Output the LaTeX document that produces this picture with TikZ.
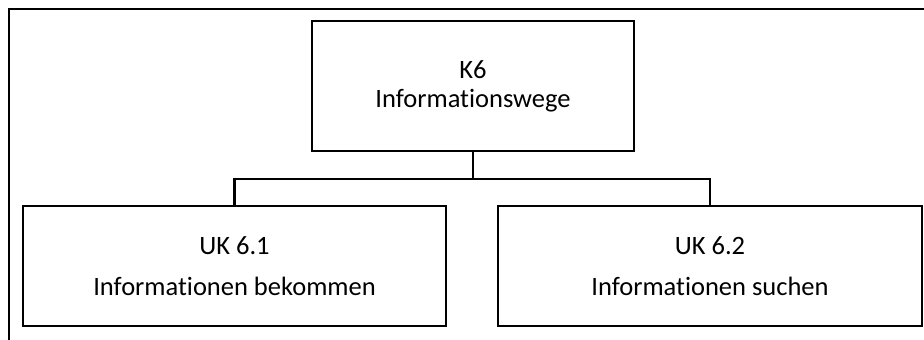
\documentclass[tikz,border=0pt]{standalone}
\usepackage{fontspec}
\setmainfont{Carlito}[Ligatures=NoCommon]
\begin{document}
\begin{tikzpicture}[x=1pt,y=-1pt,
  box/.style={draw=black,line width=2.4pt,rectangle,inner sep=0pt,align=center,text=black},
  link/.style={draw=black,line width=2.4pt}]
\useasboundingbox (0,0) rectangle (924,340);
% outer frame (open to the right and bottom)
\draw[line width=2.4pt] (9,340) -- (9,9) -- (924,9);
% main node
\node[box,minimum width=322pt,minimum height=130pt,font=\fontsize{26.5}{29}\selectfont]
  (k6) at (473,86) {K6\\Informationswege};
% sub nodes
\node[box,minimum width=423pt,minimum height=120pt,font=\fontsize{26.5}{41}\selectfont]
  (uk1) at (234.5,266) {UK 6.1\\Informationen bekommen};
\node[box,minimum width=424pt,minimum height=120pt,font=\fontsize{26.5}{41}\selectfont]
  (uk2) at (710,266) {UK 6.2\\Informationen suchen};
% branch
\coordinate (j) at (473,179);
\draw[link] (k6.south) -- (j);
\draw[link] (uk1.north) |- (j) -| (uk2.north);
\end{tikzpicture}
\end{document}
